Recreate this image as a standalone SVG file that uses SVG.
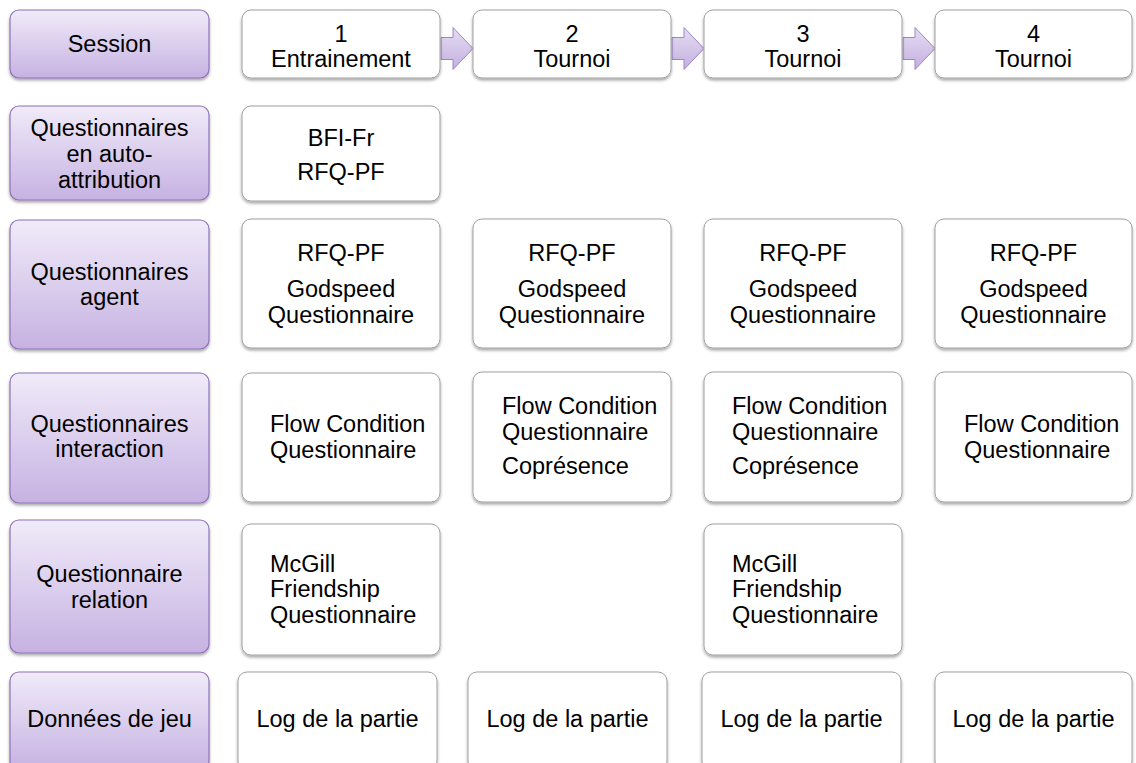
<svg xmlns="http://www.w3.org/2000/svg" width="1136" height="763" viewBox="0 0 1136 763">
<defs>
<linearGradient id="pg" x1="0" y1="0" x2="0" y2="1">
<stop offset="0" stop-color="#F0EBF9"/>
<stop offset="1" stop-color="#C6B2E2"/>
</linearGradient>
<linearGradient id="ag" x1="0" y1="0" x2="0" y2="1">
<stop offset="0" stop-color="#E6DDF3"/>
<stop offset="1" stop-color="#C3AFE0"/>
</linearGradient>
<filter id="sh" x="-10%" y="-10%" width="120%" height="130%">
<feDropShadow dx="0" dy="2" stdDeviation="1.5" flood-color="#000" flood-opacity="0.35"/>
</filter>
</defs>
<style>
.hdr{fill:url(#pg);stroke:#8F72B8;stroke-width:1.2;filter:url(#sh)}
.box{fill:#fff;stroke:#A0A0A0;stroke-width:1;filter:url(#sh)}
.arr{fill:url(#ag);stroke:#9C86C4;stroke-width:1}
text{font-family:"Liberation Sans",Arial,sans-serif;font-size:23.5px;fill:#000}
.c{text-anchor:middle}
</style>
<g id="connectors">
<path class="arr" d="M441 37.5 H453 V27.5 L473 48.5 L453 69.5 V59.5 H441 Z"/>
<path class="arr" d="M672 37.5 H684 V27.5 L704 48.5 L684 69.5 V59.5 H672 Z"/>
<path class="arr" d="M903 37.5 H915 V27.5 L935 48.5 L915 69.5 V59.5 H903 Z"/>
</g>
<g id="h-session"><rect class="hdr" x="10" y="10" width="199" height="68" rx="9"/><text class="c" x="109.5" y="52">Session</text></g>
<g id="h-auto"><rect class="hdr" x="10" y="106" width="199" height="94" rx="9"/><text class="c" x="109.5" y="136">Questionnaires</text><text class="c" x="109.5" y="162">en auto-</text><text class="c" x="109.5" y="188">attribution</text></g>
<g id="h-agent"><rect class="hdr" x="10" y="220" width="199" height="129" rx="9"/><text class="c" x="109.5" y="280">Questionnaires</text><text class="c" x="109.5" y="305">agent</text></g>
<g id="h-interaction"><rect class="hdr" x="10" y="373" width="199" height="130" rx="9"/><text class="c" x="109.5" y="432">Questionnaires</text><text class="c" x="109.5" y="457">interaction</text></g>
<g id="h-relation"><rect class="hdr" x="10" y="520" width="199" height="133" rx="9"/><text class="c" x="109.5" y="582">Questionnaire</text><text class="c" x="109.5" y="608">relation</text></g>
<g id="h-donnees"><rect class="hdr" x="10" y="672" width="199" height="98" rx="9"/><text class="c" x="109.5" y="727">Données de jeu</text></g>

<g id="s1"><rect class="box" x="242" y="10" width="198" height="68" rx="9"/><text class="c" x="341" y="42">1</text><text class="c" x="341" y="67">Entrainement</text></g>
<g id="s2"><rect class="box" x="473" y="10" width="198" height="68" rx="9"/><text class="c" x="572" y="42">2</text><text class="c" x="572" y="67">Tournoi</text></g>
<g id="s3"><rect class="box" x="704" y="10" width="198" height="68" rx="9"/><text class="c" x="803" y="42">3</text><text class="c" x="803" y="67">Tournoi</text></g>
<g id="s4"><rect class="box" x="935" y="10" width="197" height="68" rx="9"/><text class="c" x="1033.5" y="42">4</text><text class="c" x="1033.5" y="67">Tournoi</text></g>

<g id="auto1"><rect class="box" x="242" y="106" width="198" height="95" rx="9"/><text class="c" x="341" y="146">BFI-Fr</text><text class="c" x="341" y="180">RFQ-PF</text></g>

<g id="agent1"><rect class="box" x="242" y="219" width="198" height="129" rx="9"/><text class="c" x="341" y="261">RFQ-PF</text><text class="c" x="341" y="297">Godspeed</text><text class="c" x="341" y="323">Questionnaire</text></g>
<g id="agent2"><rect class="box" x="473" y="219" width="198" height="129" rx="9"/><text class="c" x="572" y="261">RFQ-PF</text><text class="c" x="572" y="297">Godspeed</text><text class="c" x="572" y="323">Questionnaire</text></g>
<g id="agent3"><rect class="box" x="704" y="219" width="198" height="129" rx="9"/><text class="c" x="803" y="261">RFQ-PF</text><text class="c" x="803" y="297">Godspeed</text><text class="c" x="803" y="323">Questionnaire</text></g>
<g id="agent4"><rect class="box" x="935" y="219" width="197" height="129" rx="9"/><text class="c" x="1033.5" y="261">RFQ-PF</text><text class="c" x="1033.5" y="297">Godspeed</text><text class="c" x="1033.5" y="323">Questionnaire</text></g>

<g id="inter1"><rect class="box" x="242" y="373" width="198" height="129" rx="9"/><text x="270" y="432">Flow Condition</text><text x="270" y="458">Questionnaire</text></g>
<g id="inter2"><rect class="box" x="473" y="372" width="198" height="130" rx="9"/><text x="502" y="414">Flow Condition</text><text x="502" y="440">Questionnaire</text><text x="502" y="474">Coprésence</text></g>
<g id="inter3"><rect class="box" x="704" y="372" width="198" height="130" rx="9"/><text x="732" y="414">Flow Condition</text><text x="732" y="440">Questionnaire</text><text x="732" y="474">Coprésence</text></g>
<g id="inter4"><rect class="box" x="935" y="372" width="197" height="130" rx="9"/><text x="964" y="432">Flow Condition</text><text x="964" y="458">Questionnaire</text></g>

<g id="rel1"><rect class="box" x="242" y="524" width="198" height="131" rx="9"/><text x="270" y="572">McGill</text><text x="270" y="597">Friendship</text><text x="270" y="623">Questionnaire</text></g>
<g id="rel3"><rect class="box" x="704" y="524" width="198" height="131" rx="9"/><text x="732" y="572">McGill</text><text x="732" y="597">Friendship</text><text x="732" y="623">Questionnaire</text></g>

<g id="log1"><rect class="box" x="238" y="672" width="199" height="98" rx="9"/><text class="c" x="337.5" y="727">Log de la partie</text></g>
<g id="log2"><rect class="box" x="468" y="672" width="199" height="98" rx="9"/><text class="c" x="567.5" y="727">Log de la partie</text></g>
<g id="log3"><rect class="box" x="702" y="672" width="199" height="98" rx="9"/><text class="c" x="801.5" y="727">Log de la partie</text></g>
<g id="log4"><rect class="box" x="935" y="672" width="197" height="98" rx="9"/><text class="c" x="1033.5" y="727">Log de la partie</text></g>
</svg>
